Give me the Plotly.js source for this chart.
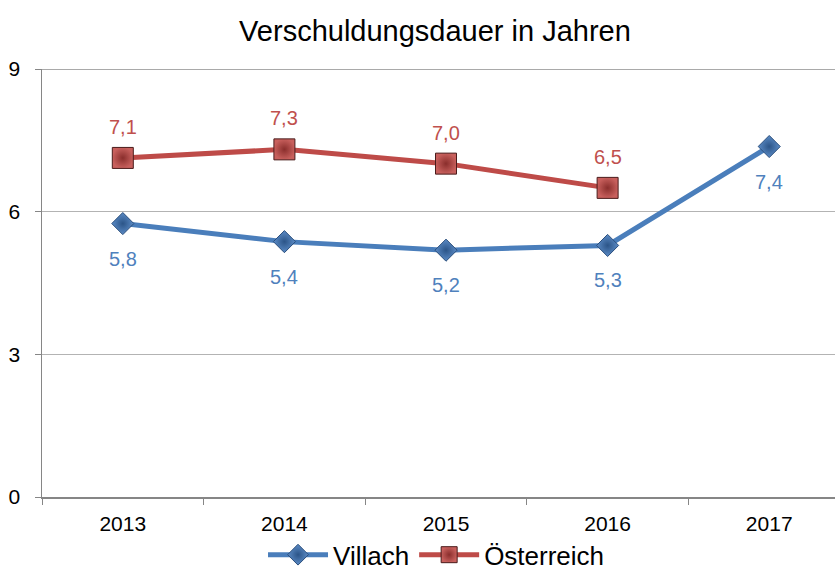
<!DOCTYPE html>
<html>
<head>
<meta charset="utf-8">
<script src="https://cdn.plot.ly/plotly-3.0.1.min.js"></script>
<style>
html,body{margin:0;padding:0;background:#fff;overflow:hidden;}
#chart{width:835px;height:570px;}
</style>
</head>
<body>
<div id="chart"></div>
<script>
const years = ["2013", "2014", "2015", "2016", "2017"];
const villach = [5.75, 5.37, 5.19, 5.29, 7.37];
const villachLabels = ["5,8", "5,4", "5,2", "5,3", "7,4"];
const oesterreich = [7.13, 7.31, 7.01, 6.50, null];
const oesterreichLabels = ["7,1", "7,3", "7,0", "6,5", ""];
const yTicks = [0, 3, 6, 9];

const FONT = "Liberation Sans, Arial, sans-serif";
const BLUE = "#4A7EBB";
const RED = "#BE4B48";

const traces = [
  {
    x: years, y: villach, name: "Villach", type: "scatter", mode: "lines+markers",
    line: {color: BLUE, width: 5},
    marker: {symbol: "diamond", size: 17, color: "#5B8BC6",
             gradient: {type: "radial", color: "#2C5588"},
             line: {color: "#2A4E7C", width: 1}},
    cliponaxis: false
  },
  {
    x: years, y: oesterreich, name: "Österreich", type: "scatter", mode: "lines+markers",
    line: {color: RED, width: 5},
    marker: {symbol: "square", size: 21, color: "#C8605D",
             gradient: {type: "radial", color: "#8A2E2C"},
             line: {color: "#4A1C1B", width: 1}},
    cliponaxis: false
  }
];

const annotations = [];
years.forEach((yr, i) => {
  if (villach[i] != null) {
    annotations.push({x: i, y: villach[i], xref: "x", yref: "y", text: villachLabels[i],
      showarrow: false, yshift: -35, xanchor: "center", yanchor: "middle",
      font: {family: FONT, size: 20, color: "#4F81BD"}});
  }
  if (oesterreich[i] != null) {
    annotations.push({x: i, y: oesterreich[i], xref: "x", yref: "y", text: oesterreichLabels[i],
      showarrow: false, yshift: 31, xanchor: "center", yanchor: "middle",
      font: {family: FONT, size: 20, color: "#C0504D"}});
  }
});

const layout = {
  width: 835, height: 570,
  margin: {l: 42, r: 0, t: 69, b: 73, autoexpand: false},
  paper_bgcolor: "#fff", plot_bgcolor: "#fff",
  font: {family: FONT, color: "#000"},
  title: {text: "Verschuldungsdauer in Jahren", font: {family: FONT, size: 29, color: "#000"},
          x: 0.4956, xanchor: "center", y: 0.9456, yanchor: "middle", xref: "paper", yref: "container"},
  xaxis: {
    type: "category", range: [-0.5, 4.407], tickson: "boundaries",
    showgrid: false, showline: true, linecolor: "#868686", linewidth: 1.5,
    ticks: "outside", ticklen: 6, tickcolor: "#868686",
    tickfont: {family: FONT, size: 21, color: "#000"}, ticklabelstandoff: 7,
    fixedrange: true, zeroline: false
  },
  yaxis: {
    range: [0, 9], tickvals: yTicks, ticktext: yTicks.map(String),
    showgrid: true, gridcolor: "#B3B3B3", gridwidth: 1,
    showline: true, linecolor: "#868686", linewidth: 1.5,
    ticks: "outside", ticklen: 6, tickcolor: "#868686",
    tickfont: {family: FONT, size: 21, color: "#000"}, ticklabelstandoff: 10,
    zeroline: false, fixedrange: true
  },
  showlegend: true,
  legend: {orientation: "h", x: 0.4975, xanchor: "center", y: -0.135, yanchor: "middle",
           font: {family: FONT, size: 26, color: "#000"}, itemwidth: 60, traceorder: "normal",
           bgcolor: "rgba(0,0,0,0)"},
  annotations: annotations,
  shapes: [
    {type: "line", xref: "paper", yref: "y", x0: 0, x1: 1, y0: 9, y1: 9, line: {color: "#8C8C8C", width: 1.5}}
  ]
};

Plotly.newPlot("chart", traces, layout, {displayModeBar: false, staticPlot: true});
</script>
</body>
</html>
